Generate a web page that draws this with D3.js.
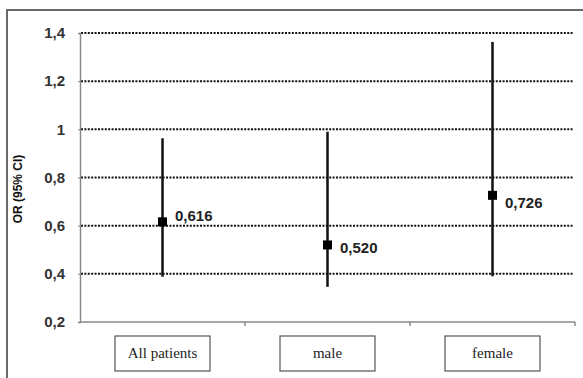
<!DOCTYPE html>
<html>
<head>
<meta charset="utf-8">
<script src="https://cdn.jsdelivr.net/npm/d3@7/dist/d3.min.js"></script>
<style>
  html, body { margin: 0; padding: 0; background: #fff; }
  svg { display: block; }
</style>
</head>
<body>
<svg id="chart" width="583" height="378"></svg>
<script>
// Odds ratios with 95% confidence intervals per patient group
const groups = ["All patients", "male", "female"];
const orValues = [0.616, 0.520, 0.726];
const ciLower = [0.388, 0.346, 0.390];
const ciUpper = [0.963, 0.990, 1.363];
const yTicks = [0.2, 0.4, 0.6, 0.8, 1.0, 1.2, 1.4];
const yTickLabels = ["0,2", "0,4", "0,6", "0,8", "1", "1,2", "1,4"];

const svg = d3.select("#chart");
const plot = { left: 80, right: 575, top: 33, bottom: 322 };
const sansBold = "Arial, 'Liberation Sans', sans-serif";

// Outer frame (left and top edges visible)
svg.append("path")
  .attr("d", "M7,378 L7,10 L583,10")
  .attr("fill", "none")
  .attr("stroke", "#6a6a6a")
  .attr("stroke-width", 2);

const x = d3.scaleBand().domain(groups).range([plot.left, plot.right]);
const y = d3.scaleLinear().domain([0.2, 1.4]).range([plot.bottom, plot.top]);
const cx = d => x(d) + x.bandwidth() / 2;

// Dotted horizontal gridlines
svg.append("g").selectAll("line")
  .data(yTicks.filter(t => t > 0.2))
  .join("line")
  .attr("x1", plot.left + 1).attr("x2", plot.right - 2)
  .attr("y1", d => y(d)).attr("y2", d => y(d))
  .attr("stroke", "#111")
  .attr("stroke-width", 2)
  .attr("stroke-dasharray", "2,1.4");

// Y axis
const yAxis = svg.append("g")
  .attr("transform", `translate(${plot.left},0)`)
  .call(d3.axisLeft(y).tickValues(yTicks)
    .tickFormat((d, i) => yTickLabels[i]).tickSize(2).tickPadding(13));
yAxis.select(".domain").attr("stroke", "#888").attr("stroke-width", 1.5);
yAxis.selectAll(".tick line").attr("stroke", "#888");
yAxis.selectAll("text")
  .attr("font-family", sansBold)
  .attr("font-weight", "bold")
  .attr("font-size", 15)
  .attr("fill", "#333");

// X axis line with ticks between groups
const xAxisG = svg.append("g").attr("transform", `translate(0,${plot.bottom})`);
xAxisG.append("line")
  .attr("x1", plot.left).attr("x2", plot.right)
  .attr("stroke", "#888").attr("stroke-width", 1.5);
const bounds = groups.map(g => x(g) + x.bandwidth());
xAxisG.selectAll(".xt").data(bounds).join("line")
  .attr("class", "xt")
  .attr("x1", d => d).attr("x2", d => d)
  .attr("y1", 0).attr("y2", 4)
  .attr("stroke", "#888").attr("stroke-width", 1.5);

// Category label boxes
const boxW = 95, boxH = 35, boxTop = 336;
const cat = svg.append("g").selectAll("g").data(groups).join("g")
  .attr("transform", d => `translate(${cx(d)},${boxTop})`);
cat.append("rect")
  .attr("x", -boxW / 2).attr("y", 0)
  .attr("width", boxW).attr("height", boxH)
  .attr("fill", "#fff").attr("stroke", "#555").attr("stroke-width", 1.2);
cat.append("text")
  .attr("x", 0).attr("y", boxH / 2 + 4)
  .attr("text-anchor", "middle")
  .attr("font-family", "'Liberation Serif', 'Times New Roman', serif")
  .attr("font-size", 15)
  .attr("fill", "#222")
  .text(d => d);

// Error bars, point estimates and value labels
const labelNudge = [-1, 8, 13]; // keeps value labels clear of the gridlines
const marks = svg.append("g").selectAll("g").data(groups).join("g");
marks.append("line")
  .attr("x1", cx).attr("x2", cx)
  .attr("y1", (d, i) => y(ciUpper[i]))
  .attr("y2", (d, i) => y(ciLower[i]))
  .attr("stroke", "#111").attr("stroke-width", 2.5);
const sq = 9;
marks.append("rect")
  .attr("x", d => cx(d) - sq / 2)
  .attr("y", (d, i) => y(orValues[i]) - sq / 2)
  .attr("width", sq).attr("height", sq)
  .attr("fill", "#000");
marks.append("text")
  .attr("x", d => cx(d) + 12.5)
  .attr("y", (d, i) => y(orValues[i]) + labelNudge[i])
  .attr("font-family", sansBold)
  .attr("font-weight", "bold")
  .attr("font-size", 15)
  .attr("fill", "#222")
  .text((d, i) => orValues[i].toFixed(3).replace(".", ","));

// Y axis title
svg.append("text")
  .attr("transform", "translate(22,189) rotate(-90)")
  .attr("text-anchor", "middle")
  .attr("font-family", sansBold)
  .attr("font-weight", "bold")
  .attr("font-size", 12)
  .attr("fill", "#111")
  .text("OR (95% CI)");
</script>
</body>
</html>
